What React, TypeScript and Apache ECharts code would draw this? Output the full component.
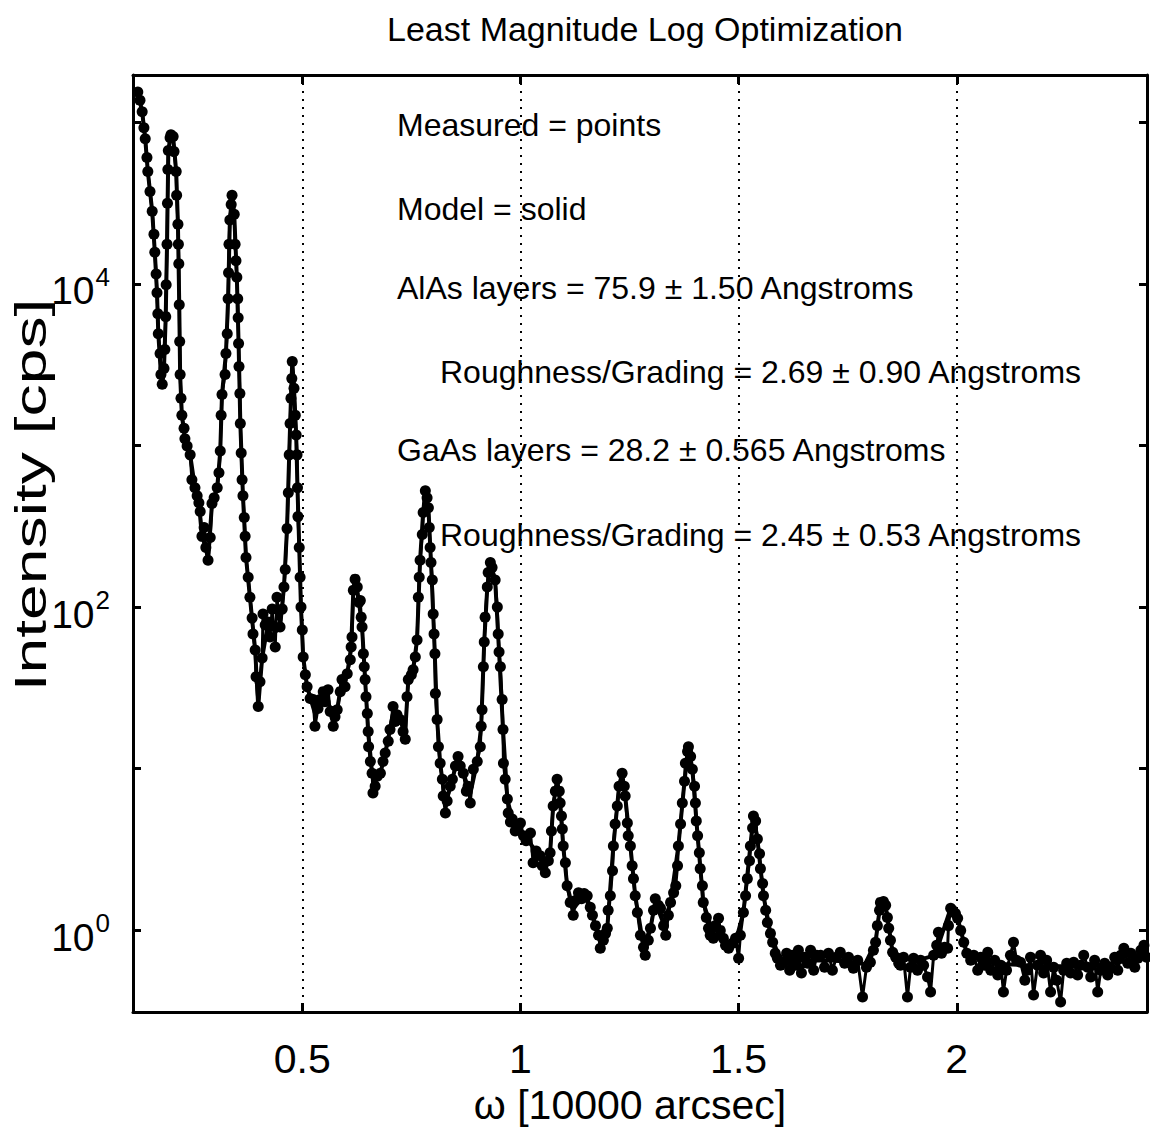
import React, { useEffect, useRef } from "react";
import * as echarts from "echarts";

// omega [10000 arcsec] of each measured point
const omega = [
  0.123,0.128,0.133,0.137,0.140,0.144,0.146,0.151,0.156,0.160,
  0.162,0.165,0.167,0.169,0.170,0.174,0.176,0.179,0.183,0.185,
  0.187,0.188,0.190,0.191,0.192,0.193,0.197,0.199,0.204,0.206,
  0.211,0.212,0.215,0.216,0.217,0.218,0.219,0.220,0.222,0.224,
  0.229,0.231,0.236,0.243,0.247,0.254,0.259,0.263,0.266,0.270,
  0.275,0.279,0.284,0.289,0.293,0.298,0.305,0.309,0.312,0.314,
  0.316,0.323,0.325,0.328,0.330,0.331,0.332,0.334,0.337,0.339,
  0.344,0.346,0.348,0.350,0.352,0.353,0.354,0.355,0.357,0.358,
  0.360,0.362,0.364,0.367,0.369,0.371,0.376,0.380,0.385,0.387,
  0.392,0.394,0.399,0.403,0.408,0.410,0.415,0.422,0.426,0.431,
  0.438,0.442,0.449,0.454,0.458,0.461,0.465,0.468,0.470,0.472,
  0.474,0.476,0.477,0.481,0.484,0.486,0.488,0.489,0.490,0.493,
  0.495,0.497,0.500,0.502,0.507,0.511,0.518,0.525,0.529,0.536,
  0.541,0.548,0.552,0.559,0.564,0.571,0.575,0.580,0.587,0.591,
  0.598,0.603,0.610,0.612,0.614,0.617,0.621,0.626,0.630,0.633,
  0.635,0.637,0.640,0.642,0.644,0.646,0.649,0.651,0.652,0.656,
  0.660,0.662,0.667,0.672,0.679,0.685,0.690,0.697,0.701,0.708,
  0.713,0.717,0.724,0.731,0.736,0.740,0.743,0.750,0.754,0.759,
  0.763,0.766,0.768,0.770,0.775,0.777,0.782,0.786,0.789,0.791,
  0.793,0.795,0.798,0.800,0.802,0.804,0.805,0.809,0.812,0.816,
  0.821,0.823,0.828,0.832,0.839,0.844,0.851,0.857,0.862,0.869,
  0.876,0.880,0.885,0.892,0.901,0.908,0.910,0.912,0.915,0.917,
  0.919,0.924,0.926,0.931,0.935,0.942,0.947,0.949,0.951,0.954,
  0.958,0.960,0.961,0.965,0.970,0.972,0.977,0.981,0.988,0.995,
  1.000,1.007,1.013,1.023,1.029,1.036,1.045,1.050,1.057,1.064,
  1.068,1.071,1.075,1.080,1.084,1.089,1.091,1.094,1.096,1.098,
  1.103,1.107,1.114,1.121,1.126,1.133,1.140,1.146,1.153,1.160,
  1.165,1.172,1.179,1.183,1.190,1.195,1.199,1.201,1.206,1.211,
  1.213,1.217,1.222,1.226,1.233,1.238,1.240,1.245,1.247,1.252,
  1.256,1.259,1.263,1.268,1.275,1.282,1.286,1.293,1.298,1.305,
  1.309,1.316,1.321,1.328,1.333,1.339,1.344,1.351,1.356,1.360,
  1.362,1.367,1.371,1.376,1.378,1.383,1.385,1.390,1.394,1.399,
  1.401,1.403,1.406,1.410,1.412,1.417,1.419,1.426,1.431,1.435,
  1.442,1.447,1.454,1.458,1.465,1.470,1.477,1.486,1.493,1.500,
  1.504,1.511,1.516,1.520,1.525,1.527,1.532,1.534,1.539,1.543,
  1.548,1.550,1.555,1.557,1.562,1.566,1.573,1.578,1.584,1.589,
  1.596,1.603,1.610,1.617,1.623,1.630,1.637,1.644,1.651,1.658,
  1.665,1.672,1.679,1.688,1.697,1.706,1.715,1.724,1.733,1.743,
  1.752,1.763,1.773,1.784,1.793,1.802,1.809,1.814,1.818,1.823,
  1.825,1.832,1.837,1.841,1.844,1.848,1.853,1.860,1.867,1.871,
  1.878,1.887,1.894,1.901,1.910,1.917,1.924,1.933,1.940,1.947,
  1.954,1.958,1.965,1.972,1.979,1.981,1.986,1.990,1.997,2.002,
  2.009,2.016,2.023,2.032,2.039,2.048,2.055,2.064,2.071,2.078,
  2.087,2.094,2.101,2.107,2.114,2.123,2.130,2.137,2.146,2.156,
  2.162,2.169,2.176,2.185,2.192,2.199,2.206,2.215,2.222,2.229,
  2.238,2.245,2.252,2.261,2.268,2.277,2.284,2.291,2.300,2.307,
  2.316,2.323,2.330,2.339,2.346,2.353,2.362,2.369,2.376,2.383,
  2.392,2.399,2.408,2.415,2.422,2.429,2.435,
];

// measured intensity [cps]
const measured = [
  154000,137000,116000,92500,79100,60500,49500,37300,28100,20300,
  15700,11500,8810,6530,4920,3710,2750,2390,3000,3930,
  6270,9860,17600,31500,51000,66800,80300,83800,81500,65800,
  49500,35300,23400,17600,13300,7430,4400,2750,1960,1540,
  1280,1100,993,875,614,547,489,443,390,274,
  311,234,195,270,437,475,547,678,925,1540,
  2070,2750,3710,4920,8090,11700,17600,24800,31000,35300,
  27000,17600,13900,11000,8090,6180,4280,3080,2100,1370,
  899,614,489,358,274,203,153,115,85.5,68.2,
  54.3,37.1,24.3,34.5,48.5,90.6,77.5,80.9,65.3,97.2,
  56.7,115,75.4,97.2,133,171,306,510,875,1370,
  1960,2600,3310,2260,1540,1160,875,547,363,234,
  153,100,72.1,49.2,38.2,32.2,27.2,26.8,18.3,23.6,
  26.8,30.0,26.0,30.8,22.6,18.3,21.0,23.2,30.0,35.6,
  32.2,38.7,47.2,56.7,65.3,127,149,133,107,110,
  86.7,75.4,51.4,42.7,35.6,27.9,22.0,17.0,13.7,11.1,
  9.38,7.07,7.80,8.99,9.38,11.1,12.5,14.8,17.5,24.3,
  19.6,21.6,20.2,17.0,15.2,27.9,35.6,38.2,41.0,49.2,
  62.6,115,153,195,281,385,525,475,412,311,
  234,189,147,90.6,68.2,51.4,29.2,20.2,13.7,10.8,
  8.61,6.78,5.32,6.31,7.80,8.61,10.4,11.9,10.4,9.38,
  7.27,7.80,6.14,9.93,11.1,13.7,18.3,23.2,42.7,60.9,
  86.7,133,164,189,176,147,100,68.2,52.8,42.7,
  26.8,17.5,10.8,8.61,6.49,5.32,4.69,4.89,4.12,4.43,
  4.62,3.85,3.58,4.01,2.62,3.10,2.90,2.51,2.27,2.70,
  3.02,4.12,5.88,7.27,8.61,7.27,6.14,5.10,4.24,3.33,
  2.62,1.89,1.49,1.24,1.53,1.71,1.57,1.69,1.64,1.39,
  1.24,1.07,0.932,0.775,0.868,0.958,1.03,1.33,1.64,2.34,
  3.33,4.55,5.88,7.80,9.38,7.80,6.78,4.62,3.85,3.33,
  2.51,2.09,1.64,1.29,0.932,0.786,0.702,0.868,1.03,1.33,
  1.57,1.43,1.37,1.07,0.932,1.24,1.49,1.71,1.89,2.51,
  3.33,4.55,6.14,8.38,10.8,12.8,13.7,11.9,9.93,7.80,
  6.14,4.75,3.85,3.02,2.41,1.89,1.49,1.20,1.03,0.932,
  0.893,1.07,1.19,1.00,0.893,0.809,0.775,0.832,0.893,0.673,
  0.932,1.29,1.64,2.09,2.70,3.33,4.30,5.10,4.75,3.68,
  2.98,2.41,1.95,1.64,1.33,1.12,0.958,0.844,0.722,0.673,
  0.609,0.636,0.722,0.567,0.702,0.609,0.753,0.544,0.682,0.627,
  0.753,0.567,0.702,0.702,0.592,0.722,0.567,0.682,0.732,0.627,
  0.682,0.584,0.654,0.387,0.592,0.636,0.753,0.844,1.07,1.33,
  1.49,1.51,1.43,1.20,1.03,0.868,0.732,0.682,0.627,0.609,
  0.682,0.387,0.592,0.673,0.567,0.654,0.609,0.514,0.415,0.702,
  0.809,0.972,0.722,0.786,0.775,1.07,1.37,1.33,1.27,1.19,
  1.00,0.844,0.722,0.654,0.702,0.567,0.682,0.609,0.732,0.567,
  0.654,0.529,0.609,0.415,0.567,0.702,0.844,0.654,0.636,0.492,
  0.567,0.682,0.398,0.609,0.702,0.544,0.654,0.415,0.592,0.492,
  0.361,0.567,0.627,0.544,0.636,0.529,0.609,0.702,0.592,0.514,
  0.654,0.415,0.567,0.627,0.529,0.584,0.682,0.567,0.702,0.775,
  0.627,0.722,0.592,0.673,0.753,0.809,0.682,
];

// model curve (solid line)
const modelOmega = [
  0.123,0.133,0.140,0.146,0.156,0.162,0.167,0.170,0.176,0.179,
  0.183,0.187,0.190,0.193,0.199,0.204,0.211,0.215,0.218,0.220,
  0.224,0.231,0.243,0.254,0.263,0.270,0.279,0.284,0.293,0.305,
  0.312,0.316,0.325,0.330,0.334,0.339,0.344,0.350,0.354,0.358,
  0.364,0.371,0.380,0.392,0.399,0.408,0.422,0.438,0.449,0.458,
  0.465,0.470,0.474,0.477,0.481,0.486,0.489,0.493,0.497,0.502,
  0.511,0.529,0.548,0.564,0.580,0.591,0.603,0.612,0.617,0.621,
  0.630,0.637,0.644,0.651,0.660,0.667,0.679,0.690,0.701,0.708,
  0.724,0.736,0.743,0.754,0.763,0.770,0.777,0.782,0.789,0.795,
  0.802,0.809,0.816,0.828,0.844,0.857,0.869,0.885,0.901,0.910,
  0.917,0.924,0.931,0.942,0.951,0.960,0.970,0.981,0.995,1.013,
  1.036,1.057,1.068,1.075,1.084,1.091,1.098,1.107,1.121,1.146,
  1.165,1.183,1.199,1.213,1.226,1.233,1.240,1.252,1.263,1.282,
  1.298,1.309,1.328,1.344,1.362,1.376,1.385,1.394,1.406,1.419,
  1.442,1.470,1.493,1.511,1.527,1.534,1.543,1.557,1.573,1.596,
  1.650,1.720,1.790,1.814,1.825,1.837,1.853,1.900,1.950,1.986,
  2.002,2.023,2.100,2.200,2.300,2.400,2.435,
];
const model = [
  154000,116000,79100,49500,28100,15700,8810,4920,2750,2390,
  3000,6270,17600,66800,83800,81500,49500,23400,7430,2750,
  1540,1100,875,547,443,274,234,195,437,547,
  925,2070,3710,8090,24800,35300,27000,11000,4280,1370,
  489,203,115,54.3,24.3,48.5,80.9,70,75.4,133,
  306,875,1960,3310,2260,1160,547,234,100,49.2,
  32.2,22,28,24,23.2,35.6,38.7,56.7,127,149,
  107,75.4,35.6,17,9.38,8.5,9.38,12.5,17.5,22,
  20.2,17,35.6,41,62.6,195,385,525,412,189,
  68.2,20.2,10.8,6,8.61,11.9,9.38,7,11.1,18.3,
  60.9,133,189,147,52.8,17.5,6.49,4.89,4.43,3.7,
  3.1,2.5,3.02,5.88,8.61,6.14,3.33,1.89,1.35,1.69,
  1.24,0.85,1.03,3.33,7.8,9.38,6.78,3.33,1.64,0.8,
  1.03,1.5,1.1,1.49,3.33,8.38,13.7,9.93,3.85,1.49,
  0.95,0.85,0.85,1.29,3.33,5.1,3.68,1.64,0.958,0.65,
  0.65,0.65,0.62,0.844,1.49,1.43,0.732,0.64,0.7,1.37,
  1.19,0.72,0.62,0.6,0.6,0.65,0.68,
];

const xTickValues = [0.5, 1, 1.5, 2];
const yLabelExponents = [0, 2, 4];
const xRange = [0.112, 2.436];
const yRange = [0.3126, 196000];

const titleText = "Least Magnitude Log Optimization";
const xName = "\u03c9 [10000 arcsec]";
const yName = "Intensity [cps]";
const noteLines = [
  "Measured = points",
  "Model = solid",
  "AlAs layers = 75.9 \u00b1 1.50 Angstroms",
  "Roughness/Grading = 2.69 \u00b1 0.90 Angstroms",
  "GaAs layers = 28.2 \u00b1 0.565 Angstroms",
  "Roughness/Grading = 2.45 \u00b1 0.53 Angstroms",
];
const notePos = [
  [397, 125],
  [397, 209],
  [397, 288],
  [440, 372],
  [397, 450],
  [440, 535],
];

const FONT = "'Liberation Sans', Arial, Helvetica, sans-serif";

export default function App() {
  const ref = useRef<HTMLDivElement>(null);
  useEffect(() => {
    const chart = echarts.init(ref.current as HTMLDivElement, null, { renderer: "svg" });
    const isTick = (v: number) => xTickValues.some((t) => Math.abs(t - v) < 1e-9);
    const frame = { show: true, lineStyle: { color: "#000", width: 3 } };
    const option: any = {
      animation: false,
      backgroundColor: "#fff",
      title: {
        text: titleText,
        left: 640,
        top: 7,
        textAlign: "center",
        textStyle: { fontSize: 34, fontWeight: "normal", color: "#000", fontFamily: FONT },
      },
      grid: { left: 133, right: 3, top: 75, bottom: 113, containLabel: false },
      xAxis: [
        {
          type: "value",
          position: "bottom",
          min: xRange[0],
          max: xRange[1],
          splitNumber: 5,
          name: xName,
          nameLocation: "middle",
          nameGap: 72,
          nameTextStyle: { fontSize: 41, color: "#000", fontFamily: FONT, padding: [0, 20, 0, 0] },
          axisLine: frame,
          axisTick: { show: true, inside: true, length: 9, lineStyle: { color: "#000", width: 3 } },
          axisLabel: {
            fontSize: 41,
            color: "#000",
            fontFamily: FONT,
            margin: 26,
            showMinLabel: false,
            showMaxLabel: false,
            formatter: (v: number) => (isTick(v) ? String(v) : ""),
          },
          splitLine: { show: true, lineStyle: { color: "#000", width: 2, type: [2, 6] } },
        },
        {
          type: "value",
          position: "top",
          min: xRange[0],
          max: xRange[1],
          splitNumber: 5,
          axisLine: frame,
          axisTick: { show: true, inside: true, length: 9, lineStyle: { color: "#000", width: 3 } },
          axisLabel: { show: false },
          splitLine: { show: false },
        },
      ],
      yAxis: [
        {
          type: "log",
          logBase: 10,
          position: "left",
          min: yRange[0],
          max: yRange[1],
          axisLine: frame,
          axisTick: { show: true, inside: true, length: 8, lineStyle: { color: "#000", width: 3 } },
          axisLabel: {
            margin: 23,
            padding: [14, 0, 0, 0],
            showMinLabel: false,
            showMaxLabel: false,
            formatter: (v: number) => {
              const e = Math.log10(v);
              const r = Math.round(e);
              if (Math.abs(e - r) > 1e-6 || yLabelExponents.indexOf(r) < 0) return "";
              return "{b|10}{e|" + r + "}";
            },
            rich: {
              b: { fontSize: 39, color: "#000", fontFamily: FONT },
              e: { fontSize: 26, color: "#000", fontFamily: FONT, padding: [0, 0, 28, 1] },
            },
          },
          splitLine: { show: false },
        },
        {
          type: "log",
          logBase: 10,
          position: "right",
          min: yRange[0],
          max: yRange[1],
          axisLine: frame,
          axisTick: { show: true, inside: true, length: 8, lineStyle: { color: "#000", width: 3 } },
          axisLabel: { show: false },
          splitLine: { show: false },
        },
      ],
      graphic: [
        {
          type: "text",
          x: 31,
          y: 495,
          rotation: Math.PI / 2,
          scaleX: 1.46,
          z: 10,
          style: {
            text: yName,
            fill: "#000",
            fontSize: 44,
            fontFamily: FONT,
            align: "center",
            verticalAlign: "middle",
            textAlign: "center",
            textVerticalAlign: "middle",
          },
        },
        ...noteLines.map((t, i) => ({
          type: "text",
          x: notePos[i][0],
          y: notePos[i][1],
          z: 10,
          style: {
            text: t,
            fill: "#000",
            fontSize: 32,
            fontFamily: FONT,
            verticalAlign: "middle",
            textVerticalAlign: "middle",
          },
        })),
      ],
      series: [
        {
          name: "Model",
          type: "line",
          xAxisIndex: 0,
          yAxisIndex: 0,
          data: modelOmega.map((x, i) => [x, model[i]]),
          showSymbol: false,
          symbol: "none",
          lineStyle: { color: "#000", width: 4 },
          z: 3,
        },
        {
          name: "Measured",
          type: "line",
          xAxisIndex: 0,
          yAxisIndex: 0,
          data: omega.map((x, i) => [x, measured[i]]),
          symbol: "circle",
          symbolSize: 11,
          showSymbol: true,
          showAllSymbol: true,
          itemStyle: { color: "#000" },
          lineStyle: { color: "#000", width: 3 },
          z: 4,
        },
      ],
    };
    chart.setOption(option);
    return () => chart.dispose();
  }, []);
  return (
    <div
      ref={ref}
      style={{ position: "absolute", left: 0, top: 0, width: 1150, height: 1130, background: "#fff" }}
    />
  );
}
